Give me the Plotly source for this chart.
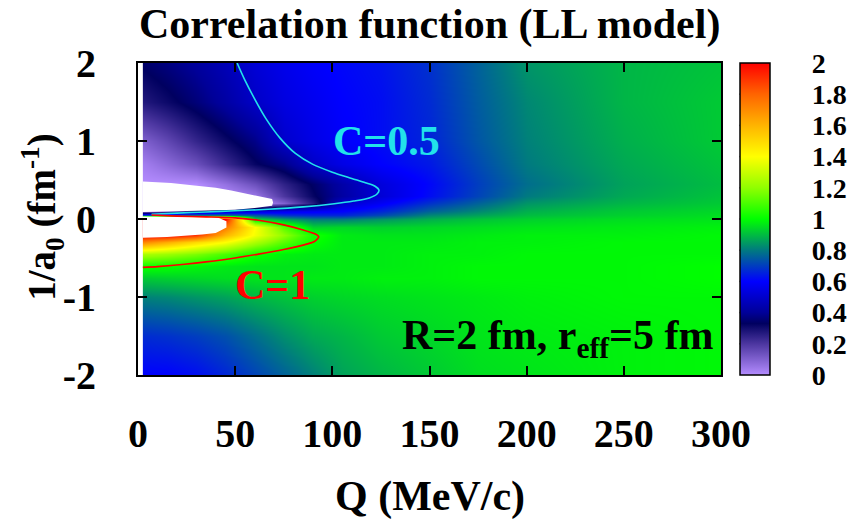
import plotly.graph_objects as go

# ---------------- data ----------------
Q_nodes = [2, 15, 30, 45, 60, 75, 90, 105, 125, 150, 175, 200, 250, 300]
inv_a0_nodes = [-2.0, -1.5, -1.0, -0.75, -0.6, -0.45, -0.3, -0.2, -0.1, 0.0,
                0.05, 0.1, 0.2, 0.3, 0.45, 0.7, 1.0, 1.5, 2.0]

# correlation function C(Q, 1/a0); one row per 1/a0 node (bottom -> top)
C_rows = [
    [0.60, 0.60, 0.62, 0.66, 0.71, 0.76, 0.81, 0.86, 0.89, 0.92, 0.95, 0.96, 0.98, 0.99],  # -2.0
    [0.67, 0.68, 0.70, 0.73, 0.78, 0.83, 0.87, 0.89, 0.92, 0.94, 0.96, 0.97, 0.98, 0.99],  # -1.5
    [0.81, 0.82, 0.84, 0.86, 0.89, 0.91, 0.93, 0.94, 0.95, 0.96, 0.97, 0.98, 0.99, 0.99],  # -1.0
    [0.92, 0.93, 0.94, 0.95, 0.96, 0.96, 0.97, 0.97, 0.98, 0.98, 0.99, 0.99, 0.99, 1.00],  # -0.75
    [1.02, 1.01, 0.99, 0.97, 0.96, 0.96, 0.96, 0.97, 0.97, 0.98, 0.99, 0.99, 0.99, 1.00],  # -0.6
    [1.25, 1.22, 1.17, 1.10, 1.02, 0.98, 0.97, 0.97, 0.97, 0.98, 0.98, 0.99, 0.99, 0.99],  # -0.45
    [1.72, 1.62, 1.50, 1.40, 1.25, 1.12, 1.01, 0.97, 0.97, 0.97, 0.98, 0.98, 0.99, 0.99],  # -0.3
    [2.00, 2.00, 1.90, 1.60, 1.38, 1.20, 1.03, 0.97, 0.96, 0.96, 0.97, 0.98, 0.98, 0.99],  # -0.2
    [2.00, 2.00, 2.00, 1.75, 1.40, 1.12, 0.93, 0.94, 0.93, 0.94, 0.95, 0.96, 0.97, 0.98],  # -0.1
    [2.00, 2.00, 2.00, 2.00, 0.95, 0.86, 0.80, 0.80, 0.84, 0.88, 0.91, 0.93, 0.95, 0.96],  # 0.0
    [0.72, 0.76, 0.80, 0.80, 0.74, 0.68, 0.66, 0.66, 0.72, 0.82, 0.86, 0.90, 0.93, 0.95],  # 0.05
    [0.00, 0.10, 0.30, 0.45, 0.52, 0.56, 0.58, 0.60, 0.66, 0.76, 0.82, 0.88, 0.92, 0.94],  # 0.1
    [0.00, 0.00, 0.00, 0.00, 0.00, 0.10, 0.27, 0.50, 0.58, 0.68, 0.76, 0.84, 0.89, 0.92],  # 0.2
    [0.00, 0.00, 0.00, 0.00, 0.05, 0.20, 0.32, 0.42, 0.52, 0.62, 0.71, 0.80, 0.87, 0.91],  # 0.3
    [0.00, 0.00, 0.00, 0.06, 0.14, 0.25, 0.34, 0.43, 0.53, 0.61, 0.70, 0.78, 0.86, 0.90],  # 0.45
    [0.03, 0.08, 0.14, 0.23, 0.32, 0.38, 0.49, 0.55, 0.60, 0.64, 0.72, 0.80, 0.87, 0.91],  # 0.7
    [0.10, 0.16, 0.24, 0.31, 0.38, 0.50, 0.55, 0.59, 0.62, 0.66, 0.74, 0.81, 0.88, 0.92],  # 1.0
    [0.27, 0.31, 0.36, 0.42, 0.49, 0.54, 0.57, 0.60, 0.62, 0.67, 0.75, 0.82, 0.89, 0.92],  # 1.5
    [0.34, 0.37, 0.41, 0.46, 0.52, 0.56, 0.59, 0.61, 0.63, 0.68, 0.76, 0.84, 0.89, 0.91],  # 2.0
]

# contour C = 0.5 (cyan)
c05_Q = [51, 55, 60, 66, 73, 81, 90, 100, 110, 117, 122, 124, 123, 119, 111, 101, 85, 67, 50, 35, 20, 7]
c05_y = [2.0, 1.78, 1.54, 1.28, 1.04, 0.84, 0.70, 0.60, 0.52, 0.465, 0.42, 0.37, 0.32, 0.27,
         0.23, 0.195, 0.155, 0.125, 0.105, 0.09, 0.075, 0.06]
# contour C = 1 (red)
c1_Q = [7, 20, 35, 50, 62, 75, 85, 91, 93, 91, 85, 75, 62, 50, 35, 24, 10, 2.5]
c1_y = [0.052, 0.037, 0.027, 0.015, -0.015, -0.075, -0.14, -0.19, -0.23, -0.285, -0.335,
        -0.39, -0.45, -0.50, -0.55, -0.58, -0.61, -0.62]

# regions outside the colour range (C < 0 above, C > 2 below) left white
neg_Q = [2.5, 17, 29, 40, 48, 55, 62, 69, 69.5, 69, 60, 50, 36, 20, 2.5]
neg_y = [0.48, 0.46, 0.43, 0.40, 0.365, 0.33, 0.29, 0.255, 0.21, 0.17, 0.14, 0.117, 0.11, 0.10, 0.09]
big_Q = [2.5, 20, 35, 41, 45.5, 45.5, 40, 33, 24, 15, 2.5]
big_y = [0.032, 0.03, 0.025, 0.018, -0.03, -0.11, -0.18, -0.20, -0.215, -0.23, -0.24]
strip_Q = [0, 2.5, 2.5, 0]
strip_y = [-2, -2, 2, 2]

x_ticks = [0, 50, 100, 150, 200, 250, 300]
y_ticks = [-2, -1, 0, 1, 2]
y_ticklabels = ["-2", "-1", "0", "1", "2"]
cbar_ticks = [0, 0.2, 0.4, 0.6, 0.8, 1.0, 1.2, 1.4, 1.6, 1.8, 2.0]

# ---------------- styling ----------------
FONT = "Liberation Serif, Times New Roman, serif"
CYAN = "#22e2ea"
RED = "#ff0000"

colorscale = [
    [0.00, "#b48cff"], [0.10, "#4c36a0"], [0.165, "#000060"], [0.20, "#000098"],
    [0.30, "#0000ff"], [0.40, "#007a80"], [0.50, "#00ff00"], [0.60, "#90ff00"],
    [0.70, "#ffff00"], [0.80, "#ffb400"], [0.90, "#ff6400"], [1.00, "#ff0000"],
]

CB_X = 1.032   # colour bar left edge (paper units)
CB_W = 30      # colour bar thickness (px)
PLOT_W = 585

fig = go.Figure()

fig.add_trace(go.Heatmap(
    x=Q_nodes, y=inv_a0_nodes, z=C_rows, zmin=0, zmax=2, zsmooth="best",
    colorscale=colorscale, hoverinfo="skip",
    colorbar=dict(
        x=CB_X, xanchor="left", xpad=0, ypad=0, y=0.5, yanchor="middle",
        len=1, lenmode="fraction", thickness=CB_W, thicknessmode="pixels",
        outlinecolor="black", outlinewidth=1.5,
        tickmode="array", tickvals=cbar_ticks,
        ticktext=[("%g" % v) for v in cbar_ticks],
        ticks="outside", ticklen=36, tickcolor="rgba(255,255,255,0)",
        tickfont=dict(family=FONT, size=28, color="black", weight="bold"),
    ),
))

for qx, yy in ((neg_Q, neg_y), (big_Q, big_y), (strip_Q, strip_y)):
    fig.add_trace(go.Scatter(x=qx, y=yy, mode="lines", fill="toself",
                             fillcolor="white", line=dict(width=0, color="white"),
                             hoverinfo="skip", showlegend=False))

fig.add_trace(go.Scatter(x=c05_Q, y=c05_y, mode="lines",
                         line=dict(color=CYAN, width=1.6, shape="spline", smoothing=0.8),
                         hoverinfo="skip", showlegend=False))
fig.add_trace(go.Scatter(x=c1_Q, y=c1_y, mode="lines",
                         line=dict(color=RED, width=1.6, shape="spline", smoothing=0.6),
                         hoverinfo="skip", showlegend=False))

axis_common = dict(
    showline=True, linecolor="black", linewidth=2, mirror="ticks",
    ticks="inside", ticklen=9, tickwidth=1.5, tickcolor="black",
    showgrid=False, zeroline=False,
    tickfont=dict(family=FONT, size=40, color="black", weight="bold"),
)
fig.update_xaxes(range=[0, 300], tickmode="array", tickvals=x_ticks,
                 ticklabelstandoff=22, **axis_common)
fig.update_yaxes(range=[-2, 2], tickmode="array", tickvals=y_ticks,
                 ticktext=y_ticklabels, ticklabelstandoff=32, **axis_common)

# colour-bar tick marks drawn inside on both edges (gnuplot style)
shapes = []
cb_left = CB_X
cb_right = CB_X + CB_W / PLOT_W
tl = 6 / PLOT_W
for v in cbar_ticks[1:-1]:
    yy = v / 2.0
    shapes.append(dict(type="line", xref="paper", yref="paper", x0=cb_left, x1=cb_left + tl,
                       y0=yy, y1=yy, line=dict(color="black", width=1.5)))
    shapes.append(dict(type="line", xref="paper", yref="paper", x0=cb_right - tl, x1=cb_right,
                       y0=yy, y1=yy, line=dict(color="black", width=1.5)))

bold = dict(family=FONT, size=42, color="black", weight="bold")
annotations = [
    dict(text="Correlation function (LL model)", xref="paper", yref="paper",
         x=0.5, y=1.125, xanchor="center", yanchor="middle", showarrow=False, font=bold),
    dict(text="Q (MeV/c)", xref="paper", yref="paper", x=0.5, y=-0.39,
         xanchor="center", yanchor="middle", showarrow=False, font=bold),
    dict(text="1/a<sub>0</sub> (fm<sup>-1</sup>)", xref="paper", yref="paper",
         x=-0.164, y=0.505, xanchor="center", yanchor="middle", textangle=-90,
         showarrow=False, font=dict(bold, size=39)),
    dict(text="C=0.5", x=128, y=1.0, xref="x", yref="y", showarrow=False,
         xanchor="center", yanchor="middle", font=dict(bold, color=CYAN)),
    dict(text="C=1", x=69, y=-0.85, xref="x", yref="y", showarrow=False,
         xanchor="center", yanchor="middle", font=dict(bold, color=RED)),
    dict(text="R=2 fm, r<sub>eff</sub>=5 fm", x=297, y=-1.52, xref="x", yref="y",
         showarrow=False, xanchor="right", yanchor="middle", font=bold),
]

fig.update_layout(
    width=860, height=523, autosize=False,
    margin=dict(l=138, r=137, t=63, b=148, pad=0),
    paper_bgcolor="white", plot_bgcolor="white",
    shapes=shapes, annotations=annotations, showlegend=False,
)

fig.write_html("out.html")
